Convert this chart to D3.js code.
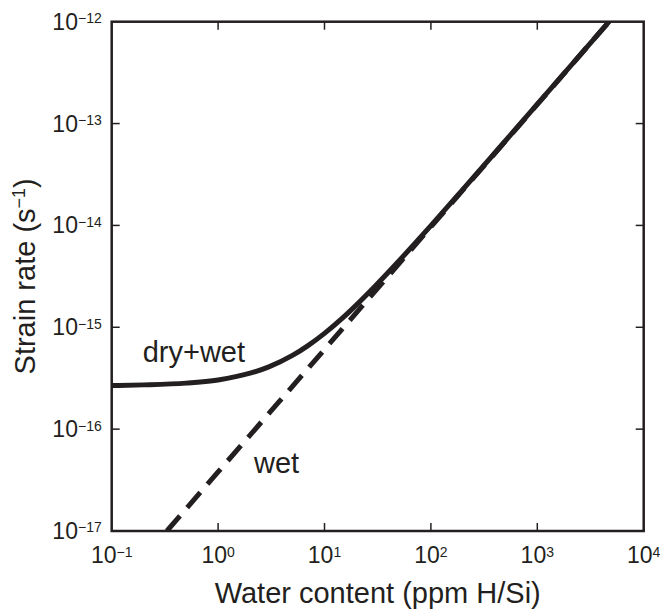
<!DOCTYPE html>
<html>
<head>
<meta charset="utf-8">
<script src="https://cdn.jsdelivr.net/npm/d3@7"></script>
<style>
  body { margin: 0; background: #fff; }
  svg text { font-family: "Liberation Sans", Arial, sans-serif; fill: #231f20; }
</style>
</head>
<body>
<svg id="chart" width="662" height="609"></svg>
<script>
// values
const xTicks = [0.1, 1, 10, 100, 1000, 10000];
const xTickExp = ['−1', '0', '1', '2', '3', '4'];
const yTicks = [1e-17, 1e-16, 1e-15, 1e-14, 1e-13, 1e-12];
const yTickExp = ['−17', '−16', '−15', '−14', '−13', '−12'];

// dry+wet (solid)
const dryWetX = [0.1, 0.2, 0.5, 1, 2, 3, 5, 7, 10, 15, 20, 30, 50, 70, 100, 200, 500, 1000, 2000, 5000];
const dryWetY = [2.68e-16, 2.72e-16, 2.83e-16, 3.04e-16, 3.54e-16, 4.09e-16, 5.29e-16, 6.61e-16, 8.72e-16,
  1.25e-15, 1.66e-15, 2.54e-15, 4.47e-15, 6.57e-15, 9.95e-15, 2.26e-14, 6.74e-14, 1.55e-13, 3.56e-13, 1.07e-12];

// wet only (dashed)
const wetX = [0.33, 1, 10, 100, 1000, 4720];
const wetY = [1e-17, 3.8e-17, 6.06e-16, 9.68e-15, 1.54e-13, 1e-12];

const ink = '#231f20';
const margin = { top: 21.7, right: 18.3, bottom: 78, left: 111.7 };
const width = 662 - margin.left - margin.right;
const height = 609 - margin.top - margin.bottom;

const svg = d3.select('#chart');
const g = svg.append('g')
  .attr('transform', `translate(${margin.left},${margin.top})`);

const x = d3.scaleLog().domain([0.1, 1e4]).range([0, width]);
const y = d3.scaleLog().domain([1e-17, 1e-12]).range([height, 0]);

g.append('clipPath').attr('id', 'plot-clip')
  .append('rect').attr('width', width).attr('height', height);

// ticks, inward on all four sides
const tickLen = 8;
xTicks.slice(1, -1).forEach(t => {
  g.append('line').attr('x1', x(t)).attr('x2', x(t)).attr('y1', height).attr('y2', height - tickLen)
    .attr('stroke', ink).attr('stroke-width', 1.5);
  g.append('line').attr('x1', x(t)).attr('x2', x(t)).attr('y1', 0).attr('y2', tickLen)
    .attr('stroke', ink).attr('stroke-width', 1.5);
});
yTicks.slice(1, -1).forEach(t => {
  g.append('line').attr('x1', 0).attr('x2', tickLen).attr('y1', y(t)).attr('y2', y(t))
    .attr('stroke', ink).attr('stroke-width', 1.5);
  g.append('line').attr('x1', width).attr('x2', width - tickLen).attr('y1', y(t)).attr('y2', y(t))
    .attr('stroke', ink).attr('stroke-width', 1.5);
});

// tick labels 10^n
xTicks.forEach((t, i) => {
  let txt = g.append('text')
    .attr('x', x(t)).attr('y', height + 32.3)
    .attr('text-anchor', 'middle')
    .style('font-size', '23px');
  txt.append('tspan').text('10');
  txt.append('tspan').attr('dy', -6.5).style('font-size', '14px').text(xTickExp[i]);
});
yTicks.forEach((t, i) => {
  let txt = g.append('text')
    .attr('x', -10).attr('y', y(t) + 8)
    .attr('text-anchor', 'end')
    .style('font-size', '23px');
  txt.append('tspan').text('10');
  txt.append('tspan').attr('dy', -6.5).style('font-size', '14px').text(yTickExp[i]);
});

const line = d3.line()
  .x(d => x(d[0]))
  .y(d => y(d[1]))
  .curve(d3.curveMonotoneX);

const plot = g.append('g').attr('clip-path', 'url(#plot-clip)');

plot.append('path')
  .datum(wetX.map((v, i) => [v, wetY[i]]))
  .attr('d', line)
  .attr('fill', 'none')
  .attr('stroke', ink)
  .attr('stroke-width', 5)
  .attr('stroke-dasharray', '20,11');

plot.append('path')
  .datum(dryWetX.map((v, i) => [v, dryWetY[i]]))
  .attr('d', line)
  .attr('fill', 'none')
  .attr('stroke', ink)
  .attr('stroke-width', 5);

// frame
g.append('rect')
  .attr('width', width).attr('height', height)
  .attr('fill', 'none').attr('stroke', ink).attr('stroke-width', 2.5);

// series labels
g.append('text').attr('x', 142.7 - margin.left).attr('y', 361.7 - margin.top)
  .style('font-size', '29px').text('dry+wet');
g.append('text').attr('x', 254 - margin.left).attr('y', 472.7 - margin.top)
  .style('font-size', '29px').text('wet');

// axis titles
g.append('text')
  .attr('x', width / 2).attr('y', 603 - margin.top)
  .attr('text-anchor', 'middle')
  .style('font-size', '29px')
  .text('Water content (ppm H/Si)');

let yTitle = svg.append('text')
  .attr('transform', `translate(35,${margin.top + height / 2}) rotate(-90)`)
  .attr('text-anchor', 'middle')
  .style('font-size', '29px');
yTitle.append('tspan').text('Strain rate (s');
yTitle.append('tspan').attr('dy', -10).style('font-size', '18px').text('−1');
yTitle.append('tspan').attr('dy', 10).text(')');
</script>
</body>
</html>
